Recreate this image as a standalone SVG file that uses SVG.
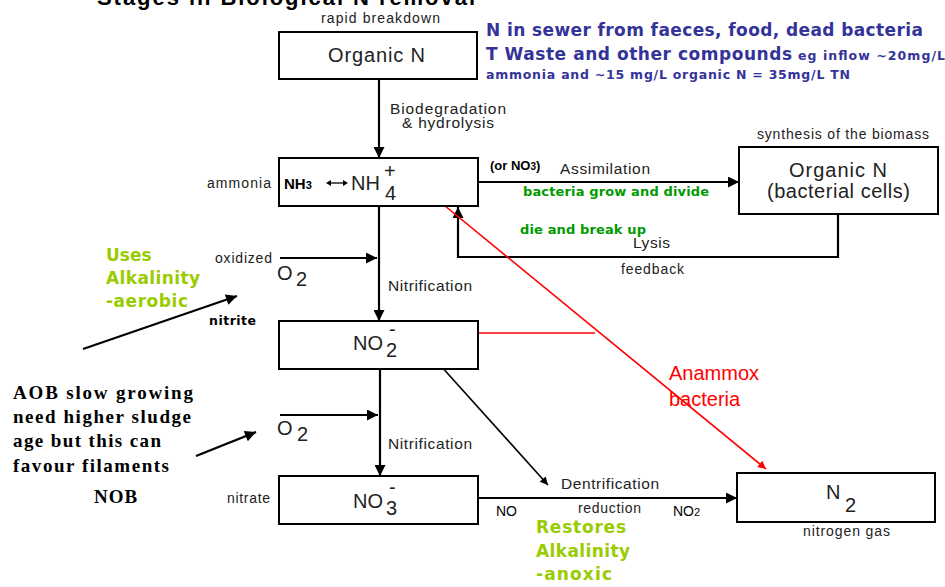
<svg xmlns="http://www.w3.org/2000/svg" width="945" height="587" viewBox="0 0 945 587">
<style>
.box{fill:#fff;stroke:#000;stroke-width:2}
.ln{fill:none;stroke:#000;stroke-width:2.2}
.thin{fill:none;stroke:#000;stroke-width:1.6}
.red{fill:none;stroke:#f00;stroke-width:1.6}
.h{font-family:"Liberation Sans",Arial,sans-serif;fill:#222}
.big{font-size:20px}
.mid{font-size:15.5px}
.sm{font-size:14px}
.v{font-family:"DejaVu Sans",Verdana,sans-serif;font-weight:bold}
.blue{fill:#333399}
.green{fill:#009a00}
.yg{fill:#99cc00}
.tb{font-family:"Liberation Serif","Times New Roman",serif;font-weight:bold;font-size:19px;fill:#000}
</style>
<defs>
<marker id="ah" viewBox="0 0 10 10" refX="10" refY="5" markerUnits="userSpaceOnUse" markerWidth="15" markerHeight="11" orient="auto"><path d="M0,0 L10,5 L0,10 z" fill="#000"/></marker>
<marker id="ahs" viewBox="0 0 10 10" refX="10" refY="5" markerUnits="userSpaceOnUse" markerWidth="14" markerHeight="11" orient="auto"><path d="M0,0 L10,5 L0,10 z" fill="#000"/></marker>
<marker id="ahr" viewBox="0 0 10 10" refX="10" refY="5" markerUnits="userSpaceOnUse" markerWidth="10" markerHeight="8" orient="auto"><path d="M0,0 L10,5 L0,10 z" fill="#f00"/></marker>
<marker id="ahk" viewBox="0 0 10 10" refX="10" refY="5" markerUnits="userSpaceOnUse" markerWidth="10" markerHeight="8" orient="auto"><path d="M0,0 L10,5 L0,10 z" fill="#000"/></marker>
</defs>

<text x="97" y="5" font-family="Liberation Sans,Arial,sans-serif" font-weight="bold" font-size="22" textLength="378" fill="#000">Stages in Biological N removal</text>

<g id="connectors">
<line class="ln" x1="379" y1="79" x2="379" y2="158" marker-end="url(#ah)"/>
<line class="ln" x1="379" y1="206" x2="379" y2="321" marker-end="url(#ah)"/>
<line class="ln" x1="380" y1="369" x2="380" y2="476" marker-end="url(#ah)"/>
<line class="ln" x1="280" y1="258" x2="377" y2="258" marker-end="url(#ah)"/>
<line class="ln" x1="280" y1="415" x2="378" y2="415" marker-end="url(#ah)"/>
<line class="ln" x1="478" y1="182" x2="739" y2="182" marker-end="url(#ah)"/>
<path class="ln" d="M838,214 V257 H458 V207" marker-end="url(#ah)"/>
<line class="ln" x1="478" y1="498" x2="737" y2="498" marker-end="url(#ah)"/>
<line class="thin" x1="440" y1="365" x2="548" y2="485" marker-end="url(#ahk)"/>
<line class="red" x1="439" y1="201" x2="766" y2="469" marker-end="url(#ahr)"/>
<line class="red" x1="440" y1="333" x2="595" y2="333"/>
<line class="ln" x1="83" y1="349" x2="237" y2="296" marker-end="url(#ahs)"/>
<line class="ln" x1="196" y1="456" x2="256" y2="432" marker-end="url(#ahs)"/>
</g>

<g id="organicN">
<rect class="box" x="279" y="32" width="198" height="47"/>
<text class="h big" x="328" y="62" textLength="97">Organic N</text>
<text class="h sm" x="321" y="23" textLength="119">rapid breakdown</text>
</g>

<g id="ammonia">
<rect class="box" x="279" y="158" width="199" height="48"/>
<text class="h sm" x="207" y="188" textLength="64">ammonia</text>
<text x="284" y="189" font-family="Liberation Sans,Arial,sans-serif" font-weight="bold" font-size="15" fill="#000">NH<tspan font-size="11">3</tspan></text>
<line x1="328" y1="183" x2="346" y2="183" stroke="#000" stroke-width="1.3"/>
<path d="M326,183 l5,-3 v6 z M348,183 l-5,-3 v6 z" fill="#000"/>
<text class="h big" x="351" y="190">NH</text>
<text class="h big" x="384" y="178">+</text>
<text class="h big" x="385" y="200">4</text>
</g>

<g id="biomass">
<rect class="box" x="739" y="147" width="199" height="67"/>
<text class="h big" x="789" y="177" textLength="98">Organic N</text>
<text class="h big" x="767" y="198" textLength="143">(bacterial cells)</text>
<text class="h sm" x="757" y="139" textLength="172">synthesis of the biomass</text>
</g>

<g id="nitrite">
<rect class="box" x="279" y="321" width="199" height="48"/>
<text class="h big" x="353" y="350">NO</text>
<text class="h big" x="389" y="336">-</text>
<text class="h big" x="386" y="357">2</text>
</g>

<g id="nitrate">
<rect class="box" x="279" y="476" width="199" height="48"/>
<text class="h big" x="353" y="508">NO</text>
<text class="h big" x="389" y="494">-</text>
<text class="h big" x="386" y="515">3</text>
<text class="h sm" x="227" y="503" textLength="43">nitrate</text>
</g>

<g id="n2">
<rect class="box" x="737" y="473" width="198" height="49"/>
<text class="h big" x="826" y="499">N</text>
<text class="h big" x="845" y="512">2</text>
<text class="h sm" x="803" y="536" textLength="87">nitrogen gas</text>
</g>

<g id="labels">
<text class="h mid" x="390" y="114" textLength="116">Biodegradation</text>
<text class="h mid" x="402" y="128" textLength="92">&amp; hydrolysis</text>
<text class="h sm" x="215" y="263" textLength="57">oxidized</text>
<text class="h big" x="277" y="280">O</text>
<text class="h big" x="296" y="286">2</text>
<text class="h mid" x="388" y="291" textLength="84">Nitrification</text>
<text class="h big" x="277" y="435">O</text>
<text class="h big" x="297" y="441">2</text>
<text class="h mid" x="388" y="449" textLength="84">Nitrification</text>
<text x="490" y="170" font-family="Liberation Sans,Arial,sans-serif" font-weight="bold" font-size="13" fill="#000">(or NO<tspan font-size="10">3</tspan>)</text>
<text class="h mid" x="560" y="174" textLength="90">Assimilation</text>
<text class="v green" x="523" y="196" font-size="13" textLength="186">bacteria grow and divide</text>
<text class="v green" x="520" y="234" font-size="13" textLength="126">die and break up</text>
<text class="h mid" x="633" y="248" textLength="37">Lysis</text>
<text class="h sm" x="621" y="274" textLength="63">feedback</text>
<text class="h mid" x="561" y="489" textLength="98">Dentrification</text>
<text class="h sm" x="578" y="513" textLength="63">reduction</text>
<text x="496" y="516" font-family="Liberation Sans,Arial,sans-serif" font-size="14" fill="#000">NO</text>
<text x="673" y="516" font-family="Liberation Sans,Arial,sans-serif" font-size="14" fill="#000">NO<tspan font-size="11">2</tspan></text>
<text x="669" y="380" font-family="Liberation Sans,Arial,sans-serif" font-size="20" fill="#f00">Anammox</text>
<text x="669" y="406" font-family="Liberation Sans,Arial,sans-serif" font-size="20" fill="#f00">bacteria</text>
<text class="v blue" x="486" y="36" font-size="17" textLength="437">N in sewer from faeces, food, dead bacteria</text>
<text class="v blue" x="486" y="60" font-size="17" textLength="306">T Waste and other compounds</text>
<text class="v blue" x="798" y="60" font-size="12.5" textLength="147">eg inflow ~20mg/L</text>
<text class="v blue" x="486" y="79" font-size="12.5" textLength="364">ammonia and ~15 mg/L organic N = 35mg/L TN</text>
<text class="v yg" x="106" y="261" font-size="17">Uses</text>
<text class="v yg" x="106" y="284" font-size="17" textLength="94">Alkalinity</text>
<text class="v yg" x="106" y="307" font-size="17" textLength="82">-aerobic</text>
<text class="v" x="209" y="325" font-size="12.5" fill="#000" textLength="47">nitrite</text>
<text class="v yg" x="536" y="533" font-size="17" textLength="90">Restores</text>
<text class="v yg" x="536" y="557" font-size="17" textLength="94">Alkalinity</text>
<text class="v yg" x="536" y="580" font-size="17" textLength="76">-anoxic</text>
<text class="tb" x="13" y="399" textLength="180">AOB slow growing</text>
<text class="tb" x="13" y="423" textLength="178">need higher sludge</text>
<text class="tb" x="13" y="447" textLength="148">age but this can</text>
<text class="tb" x="13" y="472" textLength="156">favour filaments</text>
<text class="tb" x="94" y="503" font-size="21" letter-spacing="1">NOB</text>
</g>
</svg>
